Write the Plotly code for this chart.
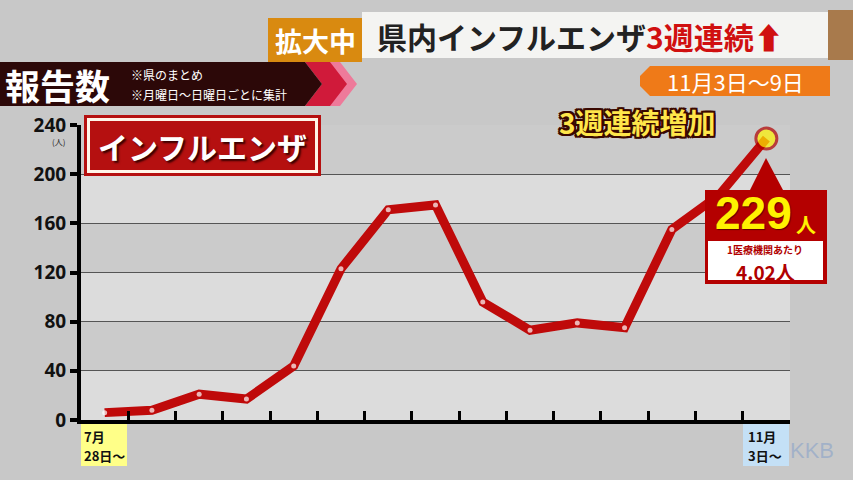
import plotly.graph_objects as go

# ---- data ----
weeks = ["7月28日～", "8月4日～", "8月11日～", "8月18日～", "8月25日～", "9月1日～", "9月8日～",
         "9月15日～", "9月22日～", "9月29日～", "10月6日～", "10月13日～", "10月20日～",
         "10月27日～", "11月3日～"]
cases = [6, 8, 21, 17, 44, 123, 171, 175, 96, 73, 79, 75, 155, 183, 229]
y_ticks = [0, 40, 80, 120, 160, 200, 240]
per_inst = "4.02"

W, H = 853, 480
L, R, T, B = 81, 790, 125, 420


def X(px):
    return (px - L) / (R - L)


def Y(py):
    return (B - py) / (B - T)


FONT = "Noto Sans CJK JP"
n = len(cases)
xs = list(range(n))

fig = go.Figure()
fig.add_trace(go.Scatter(
    x=xs, y=cases, mode="lines+markers",
    line=dict(color="#bf0a0a", width=9),
    marker=dict(
        color=["#ffffff"] * (n - 1) + ["#fff200"],
        size=[5] * (n - 1) + [21],
        line=dict(color=["#bf0a0a"] * (n - 1) + ["#b00000"], width=[0] * (n - 1) + [3]),
    ),
    hoverinfo="skip", showlegend=False, cliponaxis=False,
))

shapes = []
# alternating bands
for i in range(len(y_ticks) - 1):
    shapes.append(dict(type="rect", xref="paper", yref="y", x0=0, x1=1,
                       y0=y_ticks[i], y1=y_ticks[i + 1], layer="below", line_width=0,
                       fillcolor="#dcdcdc" if i % 2 == 0 else "#cbcbcb"))


def rect(x0, y0, x1, y1, color, layer="above"):
    shapes.append(dict(type="rect", xref="paper", yref="paper", x0=X(x0), x1=X(x1), y0=Y(y1), y1=Y(y0),
                       fillcolor=color, layer=layer, line=dict(width=0)))


def poly(pts, color, layer="above"):
    path = "M " + " L ".join(f"{X(a)},{Y(b)}" for a, b in pts) + " Z"
    shapes.append(dict(type="path", xref="paper", yref="paper", path=path,
                       fillcolor=color, line=dict(width=0), layer=layer))


# title block
rect(362, 12, 828, 58, "#f4f4f2")
rect(828, 10, 853, 60, "#a87a4c")
rect(268, 18, 362, 62, "#d98a10")
# date box
poly([(650, 66), (830, 66), (830, 96), (650, 96), (640, 86), (640, 76)], "#ef7a18")
# left banner
poly([(318, 62), (340, 62), (357, 84), (340, 106), (318, 106), (335, 84)], "#ee7a9a")
poly([(305, 62), (330, 62), (347, 84), (330, 106), (305, 106), (322, 84)], "#d01a3a")
poly([(0, 62), (305, 62), (322, 84), (305, 106), (0, 106)], "#2c0808")
# influenza label box
rect(84, 115, 321, 176, "#b51010")
rect(87, 118, 318, 173, "#fff4e8")
rect(90, 121, 315, 170, "#b51010")
# callout
poly([(705, 190), (750, 190), (766, 158), (783, 190), (827, 190), (827, 284), (705, 284)], "#b40000")
rect(708, 241, 823, 280, "#ffffff")
# x-label boxes
rect(81, 424, 127, 466, "#ffff88", layer="below")
rect(743, 424, 789, 466, "#c4e0f6", layer="below")

ann = []


def text(px, py, s, size, color, xanchor="center", yanchor="middle", weight="bold", shadow=None, family=FONT):
    f = dict(family=family, size=size, color=color, weight=weight)
    if shadow:
        f["shadow"] = shadow
    ann.append(dict(xref="paper", yref="paper", x=X(px), y=Y(py), text=s, showarrow=False,
                    xanchor=xanchor, yanchor=yanchor, font=f, align="left", borderpad=0))


text(315, 40, "拡大中", 27, "#ffffff")
text(376, 36, "県内インフルエンザ<span style='color:#d01010'>3週連続⬆</span>", 30, "#222222",
     xanchor="left")
text(735, 81, "11月3日～9日", 22, "#ffffff", weight="normal")
text(4, 84, "報告数", 35, "#ffffff", xanchor="left")
text(130, 74, "※県のまとめ", 12, "#ffffff", xanchor="left", weight="normal")
text(130, 94, "※月曜日～日曜日ごとに集計", 12, "#ffffff", xanchor="left", weight="normal")
text(202, 146, "インフルエンザ", 30, "#ffffff", shadow="2px 2px 2px #3a0000")
outline = ", ".join(f"{a}px {b}px 0 #3a0800" for a in (-2, 0, 2) for b in (-2, 0, 2) if a or b)
text(637, 122, "3週連続増加", 28, "#ffe64a", shadow=outline)
text(753, 213, str(cases[-1]), 46, "#fff200", shadow="1px 1px 1px #600000",
     family="Liberation Sans")
text(806, 224, "人", 20, "#fff200")
text(765, 249, "1医療機関あたり", 10, "#b00000")
text(765, 271, f"{per_inst}人", 19, "#b00000")
text(58, 141, "(人)", 8, "#222222", weight="normal")
text(812, 451, "KKB", 22, "rgba(150,170,200,0.75)", weight="normal", family="Liberation Sans")

for s, px in ((weeks[0], 83), (weeks[-1], 747)):
    m = s.index("月")
    text(px, 436, s[:m + 1], 13, "#111111", xanchor="left")
    text(px, 455, s[m + 1:], 13, "#111111", xanchor="left")

fig.update_layout(
    width=W, height=H,
    margin=dict(l=L, r=W - R, t=T, b=H - B, pad=0),
    paper_bgcolor="#c8c8c8", plot_bgcolor="#dcdcdc",
    shapes=shapes, annotations=ann,
    xaxis=dict(range=[-0.5, n - 0.5], tickvals=[i + 0.5 for i in range(n)], ticktext=[""] * n,
               ticks="inside", ticklen=9, tickwidth=3, tickcolor="#000",
               showline=True, linewidth=4, linecolor="#000", showgrid=False, zeroline=False,
               fixedrange=True),
    yaxis=dict(range=[0, 240], tickvals=y_ticks, ticks="outside", ticklen=7, tickwidth=4,
               tickcolor="#000", showline=True, linewidth=4, linecolor="#000",
               gridcolor="#555555", gridwidth=1, zeroline=False,
               tickfont=dict(family="Noto Sans", size=19, color="#111", weight="bold"),
               fixedrange=True),
    font=dict(family=FONT),
)

fig.write_html("out.html", config={"displayModeBar": False},
               post_script="document.body.style.margin='0';document.body.style.overflow='hidden';")
